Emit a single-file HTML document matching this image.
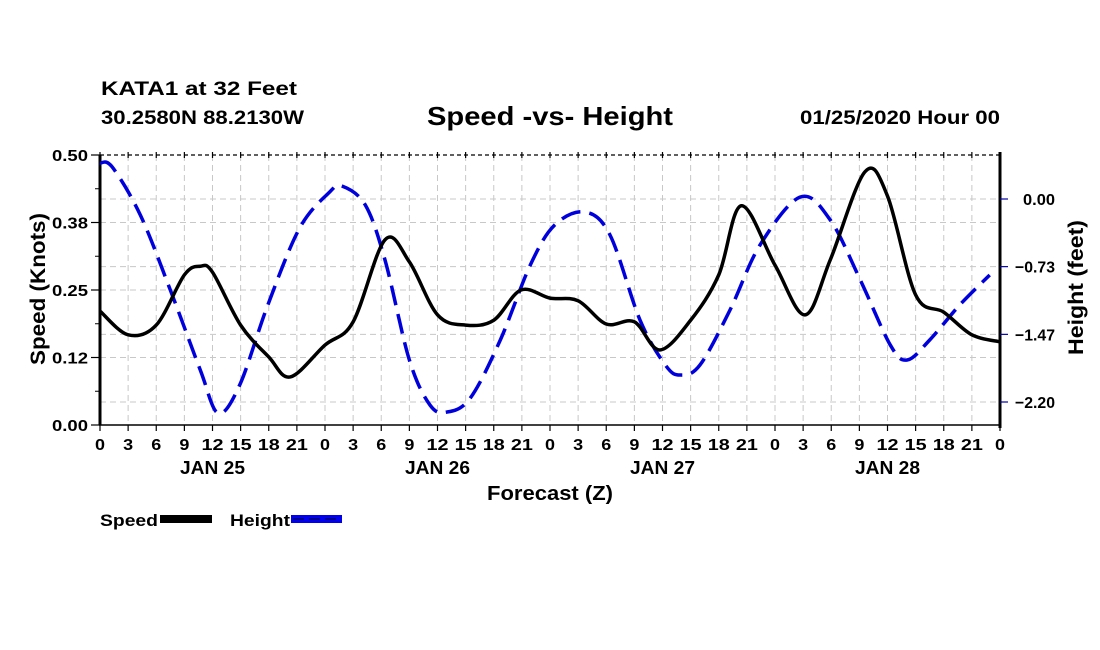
<!DOCTYPE html>
<html><head><meta charset="utf-8"><style>
body{margin:0;background:#fff;}
svg{display:block;font-family:"Liberation Sans",sans-serif;font-weight:bold;}
</style></head><body>
<svg id="chart" width="1100" height="650" viewBox="0 0 1100 650">
<text x="101" y="95" font-size="19" textLength="196" lengthAdjust="spacingAndGlyphs">KATA1 at 32 Feet</text>
<text x="101" y="124" font-size="19" textLength="203" lengthAdjust="spacingAndGlyphs">30.2580N 88.2130W</text>
<text x="427" y="125" font-size="26" textLength="246" lengthAdjust="spacingAndGlyphs">Speed -vs- Height</text>
<text x="800" y="124" font-size="19" textLength="200" lengthAdjust="spacingAndGlyphs">01/25/2020 Hour 00</text>
<g id="grid"></g>
<g id="axes"></g>
<g id="series"></g>
<text transform="translate(45,213) rotate(90) scale(-1,-1)" x="-152" y="0" font-size="21" textLength="152" lengthAdjust="spacingAndGlyphs">Speed (Knots)</text>
<text transform="translate(1083,355) rotate(-90)" x="0" y="0" font-size="21" textLength="135" lengthAdjust="spacingAndGlyphs">Height (feet)</text>
<text x="487" y="500" font-size="20" textLength="126" lengthAdjust="spacingAndGlyphs">Forecast (Z)</text>
<g>
<text x="100" y="526" font-size="17" textLength="58" lengthAdjust="spacingAndGlyphs">Speed</text>
<rect x="160" y="515" width="52" height="8" fill="#000"/>
<text x="230" y="526" font-size="17" textLength="60" lengthAdjust="spacingAndGlyphs">Height</text>
<rect x="291" y="515" width="51" height="8" fill="#0000ee"/>
<line x1="293" y1="519" x2="340" y2="519" stroke="#000088" stroke-width="2" stroke-dasharray="11 5"/>
</g>
</svg>
<script>
const speedHours=[0,3,6,9,10.7,12,15,18,20.3,24,27,30.4,33,36,39,42,44.9,48,51,54,57,59.7,63,66,68.4,72,75.2,77.9,81.6,84,87,90,93,96];
const speedValues=[0.211,0.167,0.185,0.278,0.294,0.283,0.185,0.126,0.089,0.148,0.191,0.343,0.302,0.204,0.185,0.194,0.250,0.235,0.230,0.187,0.191,0.139,0.194,0.278,0.406,0.296,0.204,0.306,0.469,0.424,0.241,0.209,0.167,0.154];
const heightHours=[0,1.3,4.3,7.5,10.7,12.6,14.9,17.9,21.3,24.5,25.8,28.3,30.4,33,35.2,37.0,39.5,42.7,45.9,48.5,51.7,54.4,57.6,60.3,61.9,64.0,67.2,70.4,74.7,77.9,81.1,84.3,86.1,88.5,91.7,94.9];
const heightValues=[0.390,0.347,-0.173,-0.986,-1.854,-2.32,-2.016,-1.149,-0.314,0.076,0.141,-0.065,-0.661,-1.745,-2.233,-2.309,-2.157,-1.528,-0.715,-0.282,-0.141,-0.390,-1.312,-1.799,-1.908,-1.799,-1.203,-0.499,0.022,-0.228,-0.878,-1.583,-1.745,-1.528,-1.149,-0.824];
const speedTicks=[0,0.125,0.25,0.375,0.5];
const speedTickLabels=["0.00","0.12","0.25","0.38","0.50"];
const heightTicks=[0,-0.733,-1.467,-2.2];
const heightTickLabels=["0.00","\u22120.73","\u22121.47","\u22122.20"];
const hourTicks=[0,3,6,9,12,15,18,21,24,27,30,33,36,39,42,45,48,51,54,57,60,63,66,69,72,75,78,81,84,87,90,93,96];
const dayLabels=["JAN 25","JAN 26","JAN 27","JAN 28"];
const dayCenters=[12,36,60,84];

const L=100,R=1000,T=155,B=425;
const xS=h=>L+(h/96)*(R-L);
const yL=v=>B-(v/0.5)*(B-T);
function yRt(v){return 199+(-v)/2.2*203;}
const NS="http://www.w3.org/2000/svg";
function mk(tag,attrs,parent){const e=document.createElementNS(NS,tag);for(const k in attrs)e.setAttribute(k,attrs[k]);parent.appendChild(e);return e;}
const grid=document.getElementById('grid'),axes=document.getElementById('axes'),series=document.getElementById('series');
hourTicks.forEach(h=>{if(h>0&&h<96){const l=mk('line',{x1:xS(h),x2:xS(h),y1:T,y2:B,stroke:'#c8c8c8','stroke-width':1,'stroke-dasharray':'6 4'},grid);

}});
speedTicks.forEach(v=>{if(v>0&&v<0.5){const l=mk('line',{x1:L,x2:R,y1:yL(v),y2:yL(v),stroke:'#c8c8c8','stroke-width':1,'stroke-dasharray':'6 4'},grid);

}});
heightTicks.forEach(v=>{const l=mk('line',{x1:L,x2:R,y1:yRt(v),y2:yRt(v),stroke:'#c8c8c8','stroke-width':1,'stroke-dasharray':'6 4'},grid);

});
let a=mk('line',{x1:L,x2:R,y1:T,y2:T,stroke:'#000','stroke-width':1.2,'stroke-dasharray':'4 3'},axes);


a=mk('line',{x1:L-1,x2:R,y1:B,y2:B,stroke:'#000','stroke-width':1.5},axes);


a=mk('line',{x1:L,x2:L,y1:T,y2:B,stroke:'#000','stroke-width':3},axes);


a=mk('line',{x1:R,x2:R,y1:T-3,y2:B+3,stroke:'#000','stroke-width':3},axes);


hourTicks.forEach(h=>{
 const t=mk('line',{x1:xS(h),x2:xS(h),y1:B,y2:B+6,stroke:'#000','stroke-width':1.2},axes);
 
 
 const t2=mk('line',{x1:xS(h),x2:xS(h),y1:T-3,y2:T+3,stroke:'#000','stroke-width':1.2},axes);
 
 
 const s=String(h%24);
 const tx=mk('text',{x:xS(h),y:450,'font-size':16,'text-anchor':'middle',textLength:s.length>1?22:10,lengthAdjust:'spacingAndGlyphs'},axes);
 tx.textContent=s;
 
 
});
dayLabels.forEach((d,i)=>{const tx=mk('text',{x:xS(dayCenters[i]),y:474,'font-size':18,'text-anchor':'middle',textLength:65,lengthAdjust:'spacingAndGlyphs'},axes);
 tx.textContent=d;
 
 });
speedTicks.forEach((v,i)=>{
 const t=mk('line',{x1:L-9,x2:L,y1:yL(v),y2:yL(v),stroke:'#000','stroke-width':1.2},axes);
 
 
 if(i<speedTicks.length-1){const m=mk('line',{x1:L-5,x2:L,y1:yL(v+0.0625),y2:yL(v+0.0625),stroke:'#000','stroke-width':1},axes);
 
 }
 const tx=mk('text',{x:L-12,y:yL(v)+6,'font-size':16,'text-anchor':'end',textLength:36,lengthAdjust:'spacingAndGlyphs'},axes);
 tx.textContent=speedTickLabels[i];
 
 
});
heightTicks.forEach((v,i)=>{
 const t=mk('line',{x1:R,x2:R+8,y1:yRt(v),y2:yRt(v),stroke:'#0000aa','stroke-width':1.2},axes);
 
 
 const lab=heightTickLabels[i];
 const tx=mk('text',{x:1055,y:yRt(v)+6,'font-size':16,'text-anchor':'end',textLength:lab.length>4?40:32,lengthAdjust:'spacingAndGlyphs'},axes);
 tx.textContent=lab;
 
 
});
function smooth(pts){
 let d='M'+pts[0][0]+','+pts[0][1];
 for(let i=0;i<pts.length-1;i++){
  const p0=pts[i-1]||pts[i],p1=pts[i],p2=pts[i+1],p3=pts[i+2]||p2;
  const c1=[p1[0]+(p2[0]-p0[0])/6,p1[1]+(p2[1]-p0[1])/6];
  const c2=[p2[0]-(p3[0]-p1[0])/6,p2[1]-(p3[1]-p1[1])/6];
  d+=' C'+c1+' '+c2+' '+p2;
 }
 return d;
}
const hp=mk('path',{d:smooth(heightHours.map((h,i)=>[xS(h),yRt(heightValues[i])])),fill:'none',stroke:'#0000dd','stroke-width':3.5,'stroke-dasharray':'20 9'},series);


const sp=mk('path',{d:smooth(speedHours.map((h,i)=>[xS(h),yL(speedValues[i])])),fill:'none',stroke:'#000','stroke-width':3.5,'stroke-linejoin':'round'},series);


</script>
</body></html>
